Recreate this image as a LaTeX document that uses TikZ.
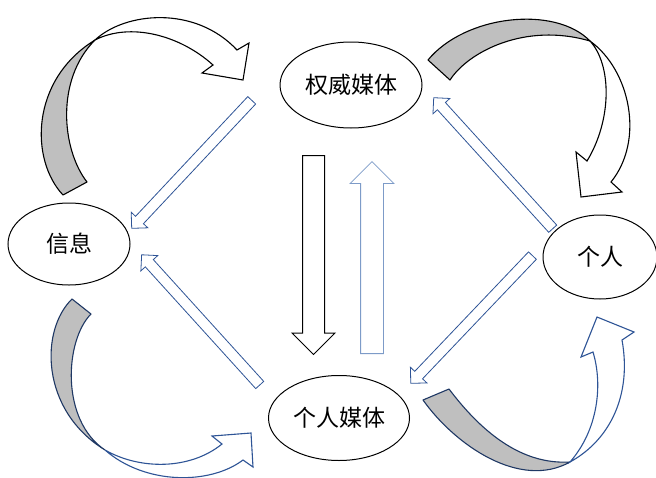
\documentclass[tikz,border=0pt]{standalone}
\usepackage{fontspec}
\usepackage{tikz}
\usetikzlibrary{shapes.geometric,shapes.arrows}
\newfontfamily\cjk{Noto Sans CJK SC}
\definecolor{lineblue}{RGB}{46,84,150}
\definecolor{paleblue}{RGB}{125,155,200}
\definecolor{navyblue}{RGB}{31,56,100}
\definecolor{shadegray}{RGB}{191,191,191}
\tikzstyle{media}=[ellipse, draw, line width=1pt, inner sep=0pt, font=\cjk\fontsize{23}{28}\selectfont]
\tikzstyle{flow}=[single arrow, draw=lineblue, line width=0.8pt, fill=white, anchor=tail, inner xsep=0pt, inner ysep=5pt, single arrow head extend=6pt, single arrow tip angle=90]
\tikzstyle{back}=[fill=shadegray, draw=black, line width=1.1pt, line join=round]
\tikzstyle{front}=[fill=white, draw=black, line width=1.1pt]

\begin{document}
\begin{tikzpicture}[x=1pt, y=-1pt]
                    \useasboundingbox (0,0) rectangle (656,477);
                    % straight block arrows
                    \node[flow, minimum height=175.5pt, rotate=-133.15] (f1) at (252,100) {};
                    \node[flow, minimum height=175.8pt, rotate=132.2]   (f2) at (260,385.3) {};
                    \node[flow, minimum height=177pt, rotate=132.25]    (f3) at (553,229) {};
                    \node[flow, minimum height=176.4pt, rotate=-133.6]  (f4) at (532.7,255.3) {};
                    \node[flow, draw=black, line width=1pt, inner ysep=10.5pt, single arrow head extend=10.5pt, minimum height=199pt, rotate=-90] (down) at (313.5,155) {};
                    \node[flow, draw=paleblue, inner ysep=11pt, single arrow head extend=10.5pt, minimum height=192pt, rotate=90] (up) at (372,354) {};
                    % the four media
                    \node[media, minimum width=142pt, minimum height=86pt] (qw)   at (351,85)  {权威媒体};
                    \node[media, minimum width=122pt, minimum height=82pt] (xx)   at (69,244)  {信息};
                    \node[media, minimum width=114pt, minimum height=84pt] (gr)   at (600,257) {个人};
                    \node[media, minimum width=141pt, minimum height=85pt] (grmt) at (339,418) {个人媒体};
                    % curved arrows
                    \draw[back]  (63,195) .. controls (30,160) and (30,80) .. (95,40) .. controls (55,80) and (62,150) .. (87,182) -- cycle;
                    \draw[front] (95,40) .. controls (125,12) and (195,5) .. (237,50) -- (249,43) -- (243,80) -- (202,73) -- (213,65) .. controls (180,35) and (130,22) .. (95,40) -- cycle;
                    \draw[back]  (428,60) .. controls (465,15) and (555,5) .. (590,41) .. controls (525,22) and (468,52) .. (450,80) -- cycle;
                    \draw[front] (590,41) .. controls (630,70) and (645,140) .. (611,182) -- (622,192) -- (581,197) -- (576,152) -- (587,161) .. controls (612,120) and (612,65) .. (590,41) -- cycle;
                    \draw[back, draw=navyblue]  (72,299) .. controls (40,330) and (40,410) .. (105,450) .. controls (60,420) and (65,340) .. (91,314) -- cycle;
                    \draw[front, draw=lineblue] (105,450) .. controls (140,470) and (190,470) .. (222,444) -- (212,436) -- (251,433) -- (253,467) -- (243,460) .. controls (210,485) and (145,485) .. (105,450) -- cycle;
                    \draw[back, draw=navyblue]  (423,400) .. controls (455,445) and (520,490) .. (570,462) .. controls (520,465) and (480,430) .. (449,389) -- cycle;
                    \draw[front, draw=lineblue] (570,462) .. controls (610,440) and (632,395) .. (622,340) -- (634,332) -- (597,317) -- (581,357) -- (593,352) .. controls (603,385) and (598,430) .. (570,462) -- cycle;
                \end{tikzpicture}
\end{document}
